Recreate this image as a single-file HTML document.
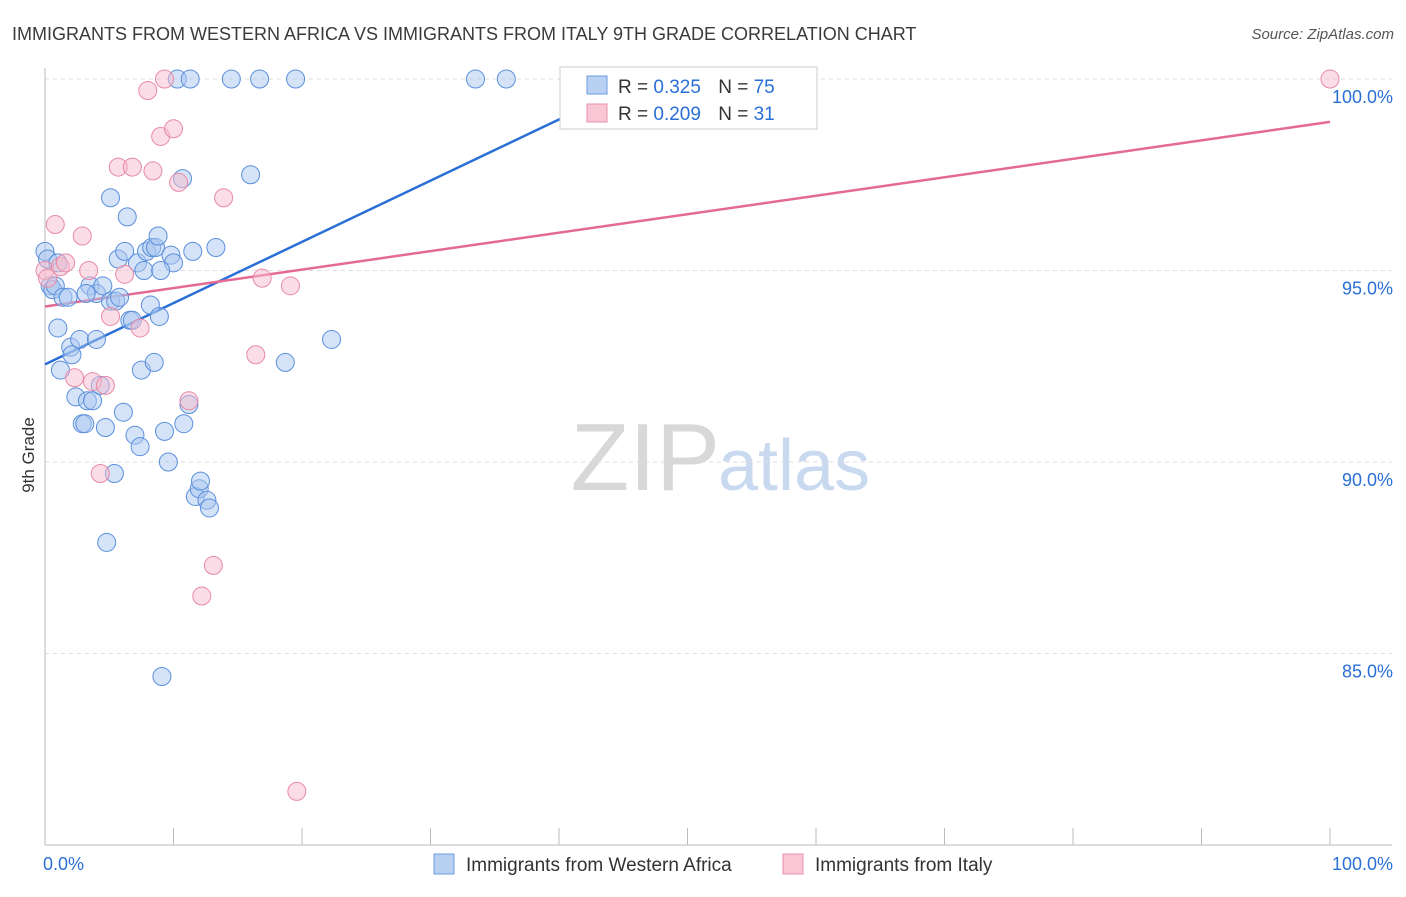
<!DOCTYPE html>
<html><head><meta charset="utf-8"><style>
body{margin:0;background:#fff;font-family:"Liberation Sans",sans-serif}
svg text{font-family:"Liberation Sans",sans-serif}
</style></head><body>
<svg id="chart" width="1406" height="892" xmlns="http://www.w3.org/2000/svg">
<text x="12" y="40" font-size="18" fill="#3a3a3a">IMMIGRANTS FROM WESTERN AFRICA VS IMMIGRANTS FROM ITALY 9TH GRADE CORRELATION CHART</text>
<text x="1394" y="39" font-size="15" fill="#555" text-anchor="end" font-style="italic">Source: ZipAtlas.com</text>
<text transform="translate(34,455) rotate(-90)" font-size="17" fill="#333" text-anchor="middle">9th Grade</text>
<text x="720" y="490" font-size="96" text-anchor="end" fill="#d8d8d8" font-family="Liberation Serif">ZIP</text>
<text x="718" y="490" font-size="72" fill="#c9d9f0">atlas</text>
<g id="grid"></g><g id="axes"></g><g id="lines"></g><g id="points"></g>
<g>
<rect x="560" y="67" width="257" height="62" fill="#fff" stroke="#ccc"/>
<rect x="587" y="76" width="20" height="18" fill="#b8d1f3" stroke="#6b9be0"/>
<rect x="587" y="104" width="20" height="18" fill="#f8c6d4" stroke="#e890ab"/>
<text x="618" y="93" font-size="19" fill="#333">R = <tspan fill="#2a6fd6">0.325</tspan>  <tspan dx="12">N = </tspan><tspan fill="#2a6fd6">75</tspan></text>
<text x="618" y="120" font-size="19" fill="#333">R = <tspan fill="#2a6fd6">0.209</tspan>  <tspan dx="12">N = </tspan><tspan fill="#2a6fd6"> 31</tspan></text>
</g>
<g>
<rect x="434" y="854" width="20" height="20" fill="#b8d1f3" stroke="#6b9be0"/>
<text x="466" y="871" font-size="19" fill="#333">Immigrants from Western Africa</text>
<rect x="783" y="854" width="20" height="20" fill="#f8c6d4" stroke="#e890ab"/>
<text x="815" y="871" font-size="19" fill="#333">Immigrants from Italy</text>
</g>
</svg>
<script>
const yTicks=[85,90,95,100];
const xTickLabels=["0.0%","100.0%"];
const blueX=[0,0.2,0.4,0.6,0.8,1,1.2,1.4,1.8,2,2.1,2.4,2.7,2.9,3.1,3.3,3.7,3.5,4,4,4.3,4.5,4.7,5.1,5.1,5.4,5.5,5.7,5.8,6.1,6.2,6.4,6.6,6.8,7,7.2,7.4,7.5,7.7,7.9,8.2,8.3,8.5,8.6,8.8,8.9,9.1,9.3,9.6,9.8,10,10.3,10.8,10.7,11.3,11.2,11.5,11.7,12,12.1,12.6,12.8,4.8,13.3,14.5,16,16.7,18.7,19.5,22.3,33.5,35.9,1,9,3.2];
const blueY=[95.5,95.3,94.6,94.5,94.6,93.5,92.4,94.3,94.3,93,92.8,91.7,93.2,91,91,91.6,91.6,94.6,94.4,93.2,92,94.6,90.9,94.2,96.9,89.7,94.2,95.3,94.3,91.3,95.5,96.4,93.7,93.7,90.7,95.2,90.4,92.4,95,95.5,94.1,95.6,92.6,95.6,95.9,93.8,84.4,90.8,90,95.4,95.2,100,91,97.4,100,91.5,95.5,89.1,89.3,89.5,89,88.8,87.9,95.6,100,97.5,100,92.6,100,93.2,100,100,95.2,95,94.4];
const pinkX=[0,0.2,0.8,1.2,1.6,2.3,2.9,3.4,3.7,4.3,4.7,5.1,5.7,6.2,6.8,7.4,8,8.4,9,9.3,10,10.4,11.2,12.2,13.1,13.9,16.4,16.9,19.1,19.6,100];
const pinkY=[95,94.8,96.2,95.1,95.2,92.2,95.9,95,92.1,89.7,92,93.8,97.7,94.9,97.7,93.5,99.7,97.6,98.5,100,98.7,97.3,91.6,86.5,87.3,96.9,92.8,94.8,94.6,81.4,100];
const blueLine=[0,92.55,40.1,98.96];
const pinkLine=[0,94.06,100,98.88];
const X0=45,X1=1330,Y0=845,Y1=79;
const sx=v=>X0+(X1-X0)*v/100, sy=v=>Y0-(Y0-Y1)*(v-80)/20;
const NS="http://www.w3.org/2000/svg";
function mk(t,a,p){const e=document.createElementNS(NS,t);for(const k in a)e.setAttribute(k,a[k]);p.appendChild(e);return e;}
const grid=document.getElementById('grid'),axes=document.getElementById('axes');
yTicks.forEach(t=>{
 const l=mk('line',{x1:X0,x2:1392,y1:sy(t),y2:sy(t),stroke:'#ddd','stroke-dasharray':'4,4'},grid);
 
 
 const tx=mk('text',{x:1393,y:sy(t)+24,'font-size':18,fill:'#2a6fd6','text-anchor':'end'},axes);
 tx.textContent=t.toFixed(1)+'%';
 
 
});
const ya=mk('line',{x1:X0,x2:X0,y1:68,y2:Y0,stroke:'#bbb'},axes);


const xa=mk('line',{x1:X0,x2:1392,y1:Y0,y2:Y0,stroke:'#bbb'},axes);


for(let i=0;i<=10;i++){const tk=mk('line',{x1:sx(i*10),x2:sx(i*10),y1:828,y2:Y0,stroke:'#bbb'},axes);
 
 }
[[X0-2,'start',0],[1393,'end',1]].forEach(([x,a,i])=>{const t=mk('text',{x:x,y:870,'font-size':18,fill:'#2a6fd6','text-anchor':a},axes);t.textContent=xTickLabels[i];
 
 });
const lines=document.getElementById('lines'),pts=document.getElementById('points');
function drawPts(xs,ys,fill,stroke,name){xs.forEach((x,i)=>{const c=mk('circle',{cx:sx(x),cy:sy(ys[i]),r:9,fill:fill,'fill-opacity':0.5,stroke:stroke,'stroke-width':1},pts);
 
 });}
drawPts(blueX,blueY,'#a9c8f0','#5b8fdc','western-africa-point');
drawPts(pinkX,pinkY,'#f6bccd','#e88aa7','italy-point');
const bl=mk('line',{x1:sx(blueLine[0]),y1:sy(blueLine[1]),x2:sx(blueLine[2]),y2:sy(blueLine[3]),stroke:'#2a6fd6','stroke-width':2.5},lines);


const pl=mk('line',{x1:sx(pinkLine[0]),y1:sy(pinkLine[1]),x2:sx(pinkLine[2]),y2:sy(pinkLine[3]),stroke:'#e56a93','stroke-width':2.5},lines);


</script>
</body></html>
